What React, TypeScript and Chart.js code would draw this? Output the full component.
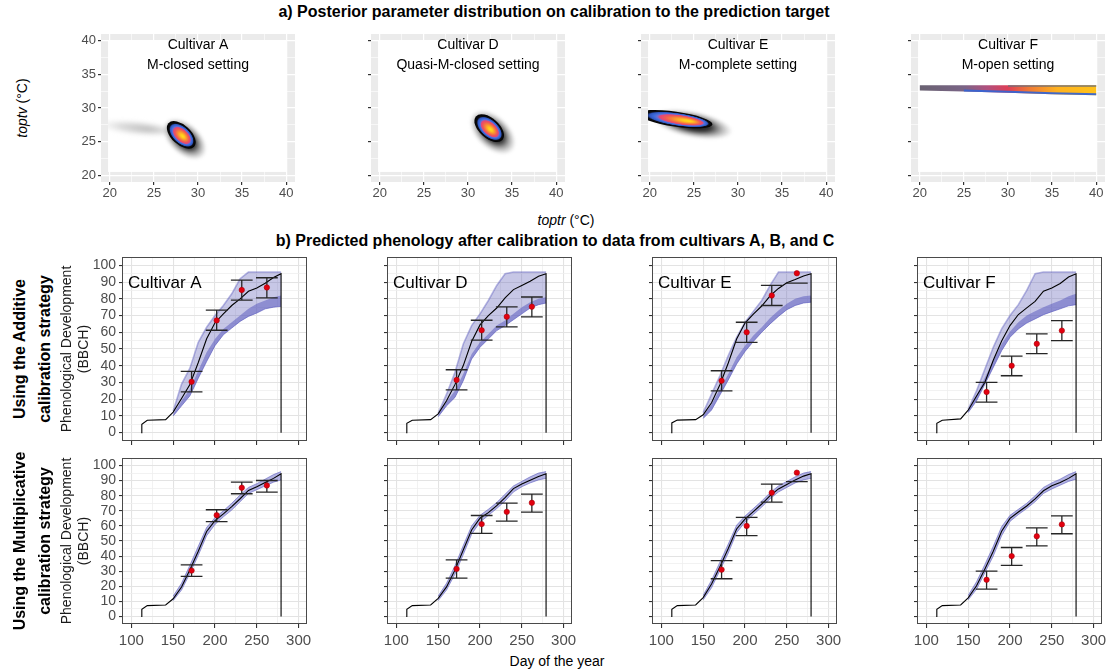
import React, { useEffect, useRef } from 'react';
import { Chart, registerables } from 'chart.js';

Chart.register(...registerables);
const FONT = "'Liberation Sans', Arial, Helvetica, sans-serif";
Chart.defaults.font.family = FONT;

// ================= a) posterior parameter distributions =================
const postCultivars = ['Cultivar A', 'Cultivar D', 'Cultivar E', 'Cultivar F'];
const postSettings = ['M-closed setting', 'Quasi-M-closed setting', 'M-complete setting', 'M-open setting'];
const paramTicks = [20, 22.5, 25, 27.5, 30, 32.5, 35, 37.5, 40];
const paramMajor = [20, 25, 30, 35, 40];
const rasterToptr = [19.8, 40.1];
const rasterToptv = [20.5, 40.1];

// density ellipses: [toptr centre, toptv centre, major half-axis d-toptr, d-toptv, minor/major ratio, mode offset]
const tailA = [23.0, 27.05, 4.6, -0.6, 0.18, 0.3];
const haloA = [28.5, 25.4, 2.2, -2.6, 0.6, 0];
const coreA = [28.1, 26.0, 1.45, -1.75, 0.56, 0.12];
const haloD = [32.8, 26.4, 2.3, -2.8, 0.6, 0];
const coreD = [32.4, 27.0, 1.5, -1.75, 0.56, 0.12];
const haloE = [24.8, 27.6, 4.6, -1.2, 0.32, 0];
const coreE = [22.9, 28.35, 4.2, -0.8, 0.2, 0.38];
// M-open ridge of cultivar F
const ridgeToptrF = [20, 25, 30, 35, 40];
const ridgeTopF = [33.4, 33.4, 33.4, 33.4, 33.4];
const ridgeBotF = [32.6, 32.45, 32.25, 32.05, 31.9];

// ================= b) predicted phenology =================
const phenCultivars = ['Cultivar A', 'Cultivar D', 'Cultivar E', 'Cultivar F'];
const dayTicks = [100, 125, 150, 175, 200, 225, 250, 275, 300];
const bbchTicks = [0, 5, 10, 15, 20, 25, 30, 35, 40, 45, 50, 55, 60, 65, 70, 75, 80, 85, 90, 95, 100];
const obsDays = [172, 202, 232, 262];
const obsA = [30.4, 67.1, 85.3, 86.8];
const obsD = [31.5, 61.2, 69.3, 75.3];
const obsE = [31.0, 60.0, 82.0, 95.3];
const obsF = [24.3, 40.0, 53.1, 61.0];
const addErrLoA = [24.4, 61.2, 79.2, 80.6];
const addErrHiA = [36.6, 73.2, 91.2, 92.6];
const addErrLoD = [25.6, 55.3, 63.2, 69.2];
const addErrHiD = [37.6, 67.2, 75.2, 81.1];
const addErrLoE = [25.0, 54.0, 76.0, 89.4];
const addErrHiE = [37.0, 66.0, 88.0, null];
const addErrLoF = [18.3, 34.0, 47.2, 55.0];
const addErrHiF = [30.1, 45.8, 59.0, 67.0];
const mulErrLoA = [26.5, 62.9, 81.3, 82.4];
const mulErrHiA = [34.2, 70.7, 89.0, 90.1];
const mulErrLoD = [25.4, 55.0, 63.2, 69.1];
const mulErrHiD = [37.5, 66.9, 75.1, 81.0];
const mulErrLoE = [25.0, 53.6, 75.8, 89.4];
const mulErrHiE = [37.0, 65.6, 87.7, null];
const mulErrLoF = [18.1, 33.8, 46.8, 54.8];
const mulErrHiF = [30.0, 45.7, 58.7, 66.7];

const simDays = [111.8, 112.5, 119, 141, 150, 160, 170, 180, 190, 200, 210, 220, 230, 240, 250, 260, 270, 279, 279];
const addLineA = [0, 5.0, 7.4, 7.8, 12.3, 20.4, 28.7, 41.9, 56.1, 65.7, 71.0, 76.0, 80.0, 84.5, 86.5, 89.3, 92.7, 95.0, 0];
const addLineD = [0, 5.6, 7.4, 7.8, 11.2, 19.1, 28.7, 40.1, 54.5, 64.4, 70.0, 74.5, 80.5, 85.5, 88.0, 90.5, 93.5, 95.0, 0];
const addLineE = [0, 5.8, 7.5, 7.8, 10.7, 17.9, 28.6, 41.6, 56.0, 65.5, 70.8, 75.7, 81.8, 86.2, 89.6, 91.5, 93.7, 95.0, 0];
const addLineF = [0, 5.6, 7.4, 8.2, 13.4, 21.9, 30.1, 43.3, 54.8, 64.0, 70.6, 74.6, 78.5, 84.6, 86.5, 89.2, 93.0, 95.0, 0];
const mulLineA = [0, 4.8, 7.2, 7.6, 11.7, 19.5, 31.0, 43.2, 56.3, 63.5, 68.0, 72.8, 78.0, 83.5, 86.0, 88.7, 91.5, 94.5, 0];
const mulLineD = [0, 4.8, 7.2, 7.6, 12.0, 19.6, 30.7, 44.0, 57.3, 65.1, 68.8, 73.4, 78.7, 84.7, 87.8, 90.3, 92.7, 94.6, 0];
const mulLineE = [0, 4.8, 7.2, 7.6, 12.5, 21.5, 33.0, 45.0, 58.0, 64.5, 69.5, 74.5, 80.0, 84.5, 87.5, 90.5, 93.0, 94.6, 0];
const mulLineF = [0, 4.8, 7.2, 7.6, 12.3, 20.3, 31.5, 43.2, 56.5, 65.0, 69.2, 73.2, 77.9, 83.3, 86.6, 88.8, 91.5, 94.5, 0];

const ribDays = [150, 160, 170, 180, 190, 200, 210, 220, 230, 240, 250, 260, 270, 279];
const addHiA = [13, 29, 38.5, 54, 63, 70, 76, 83, 92, 96, 96, 96, 96, 96];
const addLoA = [10, 16, 22, 32.5, 42.5, 52, 58.5, 62.5, 66.5, 69.5, 71.5, 74, 75, 75.5];
const addDkA = [11, 19, 26, 37, 48, 56, 62, 66, 70, 74, 77, 79, 81, 82];
const addHiD = [11.5, 23, 36, 53, 64, 71, 79, 88, 95, 96, 96, 96, 96, 96];
const addLoD = [9.5, 16, 21, 31, 44, 51, 56, 61, 64, 67.5, 71, 74.5, 76.5, 77.5];
const addDkD = [10.5, 18.5, 25, 35, 47, 54, 59, 64, 67, 71, 75, 78, 80, 81];
const addHiE = [12, 23, 34, 46, 57, 66, 72.5, 79, 88, 96, 96, 96, 96, 96];
const addLoE = [8.5, 13.5, 22.5, 31.5, 41, 48.5, 54.5, 60, 65, 69.5, 73.5, 76, 77.5, 78];
const addDkE = [10, 17, 26, 35, 45, 52, 58, 63, 68.5, 73, 77, 80, 81.5, 82];
const addHiF = [14, 25, 38, 51, 62, 70, 76.5, 85, 95, 96, 96, 96, 96, 96];
const addLoF = [12, 19, 29, 39, 49, 57, 62, 65.5, 68, 70.5, 72.3, 74, 75.8, 76.5];
const addDkF = [13, 22, 33, 43, 53, 60.5, 66, 70, 72.5, 75, 77, 79, 81.5, 83];
const mulHiA = [13.5, 22, 34, 46.5, 59, 65.5, 70, 75, 80.5, 85.5, 88, 91, 94, 96];
const mulLoA = [10.5, 17.5, 28.5, 40.5, 53.5, 61, 66, 70.5, 76, 81.5, 84, 86.5, 89, 90.5];
const mulHiD = [13.5, 22, 33.5, 47, 60, 67, 71, 75.5, 81, 86.5, 89.5, 92.5, 95, 96];
const mulLoD = [10.5, 17.5, 28, 41, 54.5, 62.5, 67, 71.5, 76.5, 82.5, 86, 88.5, 90.5, 91.5];
const mulHiE = [14, 24, 36, 48, 60.5, 66.5, 71.5, 76.5, 82, 86.5, 89.5, 92.5, 95, 96];
const mulLoE = [11, 19, 30.5, 42, 55.5, 62.5, 67.5, 72.5, 78, 82.5, 85.5, 88.5, 90.5, 91.5];
const mulHiF = [14, 23, 34.5, 46.5, 59.5, 67, 71, 75, 80, 85.5, 88.5, 91, 94, 96];
const mulLoF = [11, 18, 29, 40, 53.5, 63, 67.5, 71.5, 76, 81.5, 84.5, 87, 89.5, 91];

const obsAll = [obsA, obsD, obsE, obsF];
const addLines = [addLineA, addLineD, addLineE, addLineF];
const mulLines = [mulLineA, mulLineD, mulLineE, mulLineF];
const addHis = [addHiA, addHiD, addHiE, addHiF];
const addLos = [addLoA, addLoD, addLoE, addLoF];
const addDks = [addDkA, addDkD, addDkE, addDkF];
const mulHis = [mulHiA, mulHiD, mulHiE, mulHiF];
const mulLos = [mulLoA, mulLoD, mulLoE, mulLoF];
const addErrLos = [addErrLoA, addErrLoD, addErrLoE, addErrLoF];
const addErrHis = [addErrHiA, addErrHiD, addErrHiE, addErrHiF];
const mulErrLos = [mulErrLoA, mulErrLoD, mulErrLoE, mulErrLoF];
const mulErrHis = [mulErrHiA, mulErrHiD, mulErrHiE, mulErrHiF];

// ================= layout (pixels) =================
const TOP_LEFTS = [101, 371, 641, 911];
const TOP_W = 194, TOP_T = 34, TOP_H = 148;
const TOP_YW = 30, TOP_XH = 24, TOP_PT = 12, TOP_PR = 10;
const BOT_LEFTS = [123, 388, 653, 918];
const BOT_W = 184;
const ROW_T = [257, 458];
const ROW_H = [184, 166];
const BOT_YW = 36, BOT_PT = 12, BOT_PR = 14;
const ROW_XH = [6, 28];
const ROW_PB = [8, 0];
const CAP_HALF = 13;

const coreStops: [number, string][] = [
  [0, '#ffe01a'], [0.15, '#ffc41f'], [0.32, '#f98b35'], [0.47, '#ee5a55'],
  [0.58, '#e2457a'], [0.63, '#6a6fd0'], [0.69, '#3f6cdc'], [0.78, '#2f56c0'],
  [0.85, '#0c0c10'], [1, '#000000'],
];
const haloStops: [number, string][] = [
  [0, 'rgba(0,0,0,0.95)'], [0.45, 'rgba(0,0,0,0.8)'], [0.7, 'rgba(30,30,30,0.38)'], [1, 'rgba(90,90,90,0)'],
];
const tailStops: [number, string][] = [
  [0, 'rgba(140,140,140,0.6)'], [0.55, 'rgba(170,170,170,0.42)'], [1, 'rgba(210,210,210,0)'],
];

function paintEllipse(ctx: any, xs: any, ys: any, e: number[], stops: [number, string][]) {
  const [cx, cy, dx, dy, ratio, focus] = e;
  const px = xs.getPixelForValue(cx), py = ys.getPixelForValue(cy);
  const vx = xs.getPixelForValue(cx + dx) - px;
  const vy = ys.getPixelForValue(cy + dy) - py;
  const R = Math.hypot(vx, vy);
  ctx.save();
  ctx.translate(px, py);
  ctx.rotate(Math.atan2(vy, vx));
  ctx.scale(1, ratio);
  const g = ctx.createRadialGradient(focus * R, 0, 0, 0, 0, R);
  for (const [o, c] of stops) g.addColorStop(o, c);
  ctx.fillStyle = g;
  ctx.beginPath();
  ctx.arc(0, 0, R, 0, Math.PI * 2);
  ctx.fill();
  ctx.restore();
}

function paintRidge(ctx: any, xs: any, ys: any) {
  const left = xs.getPixelForValue(ridgeToptrF[0]);
  const right = xs.getPixelForValue(ridgeToptrF[ridgeToptrF.length - 1]);
  ctx.save();
  ctx.beginPath();
  ridgeToptrF.forEach((x, i) => {
    const X = xs.getPixelForValue(x), Y = ys.getPixelForValue(ridgeTopF[i]);
    if (i === 0) ctx.moveTo(X, Y); else ctx.lineTo(X, Y);
  });
  for (let i = ridgeToptrF.length - 1; i >= 0; i--) {
    ctx.lineTo(xs.getPixelForValue(ridgeToptrF[i]), ys.getPixelForValue(ridgeBotF[i]));
  }
  ctx.closePath();
  const g = ctx.createLinearGradient(left, 0, right, 0);
  g.addColorStop(0, '#6a6272'); g.addColorStop(0.25, '#7a6486'); g.addColorStop(0.38, '#b0507e');
  g.addColorStop(0.5, '#de3f56'); g.addColorStop(0.62, '#f07a35'); g.addColorStop(0.78, '#ffb21f');
  g.addColorStop(1, '#ffc21a');
  ctx.fillStyle = g;
  ctx.fill();
  const rim = (arr: number[], from: number, color: string, w: number, off: number) => {
    ctx.beginPath();
    let started = false;
    ridgeToptrF.forEach((x, i) => {
      if (x < from) return;
      const X = xs.getPixelForValue(x), Y = ys.getPixelForValue(arr[i]) + off;
      if (!started) { ctx.moveTo(X, Y); started = true; } else ctx.lineTo(X, Y);
    });
    ctx.strokeStyle = color; ctx.lineWidth = w; ctx.stroke();
  };
  rim(ridgeTopF, 30, 'rgba(110,110,120,0.9)', 1.6, 0.8);
  rim(ridgeBotF, 25, 'rgba(55,100,210,0.95)', 2, -1);
  ctx.restore();
}

function densityPlugin(idx: number) {
  return {
    id: 'density',
    beforeDraw(chart: any) {
      const { ctx, chartArea: a } = chart;
      ctx.save();
      ctx.fillStyle = '#ebebeb';
      ctx.fillRect(a.left, a.top, a.right - a.left, a.bottom - a.top);
      ctx.restore();
    },
    beforeDatasetsDraw(chart: any) {
      const ctx = chart.ctx, xs = chart.scales.x, ys = chart.scales.y;
      const l = xs.getPixelForValue(rasterToptr[0]), r = xs.getPixelForValue(rasterToptr[1]);
      const t = ys.getPixelForValue(rasterToptv[1]), b = ys.getPixelForValue(rasterToptv[0]);
      ctx.save();
      ctx.fillStyle = '#ffffff';
      ctx.fillRect(l, t, r - l, b - t);
      ctx.beginPath(); ctx.rect(l, t, r - l, b - t); ctx.clip();
      if (idx === 0) {
        ctx.filter = 'blur(2px)';
        paintEllipse(ctx, xs, ys, tailA, tailStops);
        ctx.filter = 'blur(1.5px)';
        paintEllipse(ctx, xs, ys, haloA, haloStops);
        ctx.filter = 'none';
        paintEllipse(ctx, xs, ys, coreA, coreStops);
      } else if (idx === 1) {
        ctx.filter = 'blur(1.5px)';
        paintEllipse(ctx, xs, ys, haloD, haloStops);
        ctx.filter = 'none';
        paintEllipse(ctx, xs, ys, coreD, coreStops);
      } else if (idx === 2) {
        ctx.filter = 'blur(1.5px)';
        paintEllipse(ctx, xs, ys, haloE, haloStops);
        ctx.filter = 'none';
        paintEllipse(ctx, xs, ys, coreE, coreStops);
      } else {
        paintRidge(ctx, xs, ys);
      }
      ctx.restore();
    },
    afterDatasetsDraw(chart: any) {
      const ctx = chart.ctx, ys = chart.scales.y;
      ctx.save();
      ctx.fillStyle = '#000';
      ctx.font = `14px ${FONT}`;
      ctx.textAlign = 'center';
      ctx.textBaseline = 'middle';
      const cx = (chart.chartArea.left + chart.chartArea.right) / 2;
      ctx.fillText(postCultivars[idx], cx, ys.getPixelForValue(39.4));
      ctx.fillText(postSettings[idx], cx, ys.getPixelForValue(36.3));
      ctx.restore();
    },
  };
}

const isMajorParam = (v: number) => paramMajor.indexOf(v) >= 0;

function topConfig(idx: number): any {
  const gridOpts = {
    color: '#ffffff',
    lineWidth: (c: any) => (c.tick && isMajorParam(c.tick.value) ? 1.2 : 0.6),
    tickColor: (c: any) => (c.tick && isMajorParam(c.tick.value) ? '#333333' : 'rgba(0,0,0,0)'),
    tickLength: 3,
    drawTicks: true,
  };
  return {
    type: 'scatter',
    data: { datasets: [] },
    options: {
      responsive: false, animation: false, devicePixelRatio: 1, events: [],
      layout: { padding: { top: TOP_PT, right: TOP_PR, left: 0, bottom: 0 } },
      plugins: { legend: { display: false }, tooltip: { enabled: false } },
      scales: {
        x: {
          type: 'linear', min: 19, max: 41,
          afterBuildTicks: (s: any) => { s.ticks = paramTicks.map((v) => ({ value: v })); },
          afterFit: (s: any) => { s.height = TOP_XH; },
          ticks: {
            autoSkip: false, maxRotation: 0, minRotation: 0, padding: 1, color: '#4d4d4d',
            font: { size: 13 }, callback: (v: number) => (isMajorParam(v) ? String(v) : ''),
          },
          grid: gridOpts,
          border: { display: false },
        },
        y: {
          type: 'linear', min: 19, max: 41,
          afterBuildTicks: (s: any) => { s.ticks = paramTicks.map((v) => ({ value: v })); },
          afterFit: (s: any) => { s.width = TOP_YW; },
          ticks: {
            autoSkip: false, padding: 2, color: '#4d4d4d', font: { size: 13 },
            callback: (v: number) => (idx === 0 && isMajorParam(v) ? String(v) : ''),
          },
          grid: gridOpts,
          border: { display: false },
        },
      },
    },
    plugins: [densityPlugin(idx)],
  };
}

const pts = (xs: number[], ys: (number | null)[]) => xs.map((x, i) => ({ x, y: ys[i] }));

function errorBarPts(days: number[], lo: (number | null)[], hi: (number | null)[]) {
  const out: any[] = [];
  days.forEach((d, i) => {
    if (hi[i] != null && lo[i] != null) {
      out.push({ x: d, y: lo[i] }, { x: d, y: hi[i] }, { x: d, y: null });
    }
    if (hi[i] != null) out.push({ x: d - CAP_HALF, y: hi[i] }, { x: d + CAP_HALF, y: hi[i] }, { x: d, y: null });
    if (lo[i] != null) out.push({ x: d - CAP_HALF, y: lo[i] }, { x: d + CAP_HALF, y: lo[i] }, { x: d, y: null });
  });
  return out;
}

function phenoDecor(row: number, col: number) {
  return {
    id: 'phenoDecor',
    afterDatasetsDraw(chart: any) {
      const { ctx, chartArea: a } = chart;
      const ys = chart.scales.y;
      ctx.save();
      ctx.strokeStyle = '#4a4a4a';
      ctx.lineWidth = 1;
      ctx.strokeRect(Math.round(a.left) - 0.5, Math.round(a.top) + 0.5, Math.round(a.right - a.left), Math.round(a.bottom - a.top) - 1);
      if (row === 0) {
        ctx.fillStyle = '#000';
        ctx.font = `17px ${FONT}`;
        ctx.textAlign = 'left';
        ctx.textBaseline = 'middle';
        ctx.fillText(phenCultivars[col], a.left + 5, ys.getPixelForValue(89.5));
      }
      ctx.restore();
    },
  };
}

function phenoConfig(row: number, col: number): any {
  const isAdd = row === 0;
  const datasets: any[] = [];
  const base = { pointRadius: 0, pointHoverRadius: 0, pointHitRadius: 0, tension: 0 };
  datasets.push({
    ...base, data: pts(obsDays, obsAll[col]), showLine: false, pointRadius: 2.7,
    pointBackgroundColor: '#e3000f', pointBorderColor: '#a8000a', pointBorderWidth: 0.6, order: 0,
  });
  datasets.push({
    ...base, data: errorBarPts(obsDays, (isAdd ? addErrLos : mulErrLos)[col], (isAdd ? addErrHis : mulErrHis)[col]),
    borderColor: '#262626', borderWidth: 1.3, spanGaps: false, fill: false, order: 1,
  });
  datasets.push({
    ...base, data: pts(simDays, (isAdd ? addLines : mulLines)[col]),
    borderColor: '#000000', borderWidth: 1.1, fill: false, order: 2,
  });
  if (isAdd) {
    datasets.push({
      ...base, data: pts(ribDays, addDks[col]), fill: '+1',
      backgroundColor: 'rgba(85,85,190,0.5)', borderWidth: 0, order: 3,
    });
    datasets.push({ ...base, data: pts(ribDays, addLos[col]), fill: false, borderWidth: 0, order: 4 });
    datasets.push({
      ...base, data: pts(ribDays, addHis[col]), fill: '+1',
      backgroundColor: 'rgba(100,100,185,0.36)', borderColor: 'rgba(95,95,190,0.45)', borderWidth: 1.6, order: 5,
    });
    datasets.push({ ...base, data: pts(ribDays, addLos[col]), fill: false, borderColor: 'rgba(85,85,190,0.6)', borderWidth: 1, order: 6 });
  } else {
    datasets.push({
      ...base, data: pts(ribDays, mulHis[col]), fill: '+1',
      backgroundColor: 'rgba(95,95,195,0.48)', borderColor: 'rgba(85,85,185,0.55)', borderWidth: 1, order: 3,
    });
    datasets.push({ ...base, data: pts(ribDays, mulLos[col]), fill: false, borderColor: 'rgba(85,85,185,0.55)', borderWidth: 1, order: 4 });
  }
  const major = (v: number, step: number) => Math.abs(v % step) < 1e-6;
  return {
    type: 'line',
    data: { datasets },
    options: {
      responsive: false, animation: false, devicePixelRatio: 1, events: [],
      layout: { padding: { top: BOT_PT, right: BOT_PR, left: 0, bottom: ROW_PB[row] } },
      plugins: { legend: { display: false }, tooltip: { enabled: false } },
      scales: {
        x: {
          type: 'linear', min: 90, max: 310,
          afterBuildTicks: (s: any) => { s.ticks = dayTicks.map((v) => ({ value: v })); },
          afterFit: (s: any) => { s.height = ROW_XH[row]; },
          ticks: {
            autoSkip: false, maxRotation: 0, minRotation: 0, padding: 4, color: '#4d4d4d',
            font: { size: 15 }, callback: (v: number) => (row === 1 && major(v, 50) ? String(v) : ''),
          },
          grid: {
            color: (c: any) => (c.tick && major(c.tick.value, 50) ? '#e3e3e3' : '#efefef'),
            lineWidth: (c: any) => (c.tick && major(c.tick.value, 50) ? 1.1 : 0.8),
            tickColor: (c: any) => (c.tick && major(c.tick.value, 50) ? '#333333' : 'rgba(0,0,0,0)'),
            tickLength: 4, drawTicks: true,
          },
          border: { display: false },
        },
        y: {
          type: 'linear', min: -5, max: 105,
          afterBuildTicks: (s: any) => { s.ticks = bbchTicks.map((v) => ({ value: v })); },
          afterFit: (s: any) => { s.width = BOT_YW; },
          ticks: {
            autoSkip: false, padding: 3, color: '#4d4d4d', font: { size: 14 },
            callback: (v: number) => (col === 0 && major(v, 10) ? String(v) : ''),
          },
          grid: {
            color: (c: any) => (c.tick && major(c.tick.value, 10) ? '#e3e3e3' : '#efefef'),
            lineWidth: (c: any) => (c.tick && major(c.tick.value, 10) ? 1.1 : 0.8),
            tickColor: (c: any) => (c.tick && major(c.tick.value, 10) ? '#333333' : 'rgba(0,0,0,0)'),
            tickLength: 4, drawTicks: true,
          },
          border: { display: false },
        },
      },
    },
    plugins: [phenoDecor(row, col)],
  };
}

function ChartBox(props: { left: number; top: number; width: number; height: number; make: () => any }) {
  const ref = useRef<HTMLCanvasElement>(null);
  useEffect(() => {
    const chart = new Chart(ref.current as HTMLCanvasElement, props.make());
    return () => chart.destroy();
  }, []);
  return (
    <canvas
      ref={ref}
      width={props.width}
      height={props.height}
      style={{ position: 'absolute', left: props.left, top: props.top, width: props.width, height: props.height }}
    />
  );
}

function VText(props: { cx: number; cy: number; children: any; style?: any }) {
  return (
    <div
      style={{
        position: 'absolute', left: props.cx, top: props.cy, whiteSpace: 'nowrap', textAlign: 'center',
        transform: 'translate(-50%, -50%) rotate(-90deg)', fontFamily: FONT, ...props.style,
      }}
    >
      {props.children}
    </div>
  );
}

function HText(props: { cx: number; cy: number; children: any; style?: any }) {
  return (
    <div
      style={{
        position: 'absolute', left: props.cx, top: props.cy, whiteSpace: 'nowrap', textAlign: 'center',
        transform: 'translate(-50%, -50%)', fontFamily: FONT, ...props.style,
      }}
    >
      {props.children}
    </div>
  );
}

export default function App() {
  return (
    <div style={{ position: 'fixed', left: 0, top: 0, width: 1107, height: 669, background: '#fff', overflow: 'hidden' }}>
      <HText cx={554} cy={12} style={{ fontSize: 16, fontWeight: 'bold', color: '#000' }}>
        a) Posterior parameter distribution on calibration to the prediction target
      </HText>
      {TOP_LEFTS.map((L, i) => (
        <ChartBox
          key={'t' + i}
          left={L - TOP_YW}
          top={TOP_T - TOP_PT}
          width={TOP_YW + TOP_W + TOP_PR}
          height={TOP_PT + TOP_H + TOP_XH}
          make={() => topConfig(i)}
        />
      ))}
      <VText cx={22} cy={108} style={{ fontSize: 14, color: '#000' }}>
        <i>toptv</i> (°C)
      </VText>
      <HText cx={566} cy={220} style={{ fontSize: 14, color: '#000' }}>
        <i>toptr</i> (°C)
      </HText>
      <HText cx={555} cy={241} style={{ fontSize: 16, fontWeight: 'bold', color: '#000' }}>
        b) Predicted phenology after calibration to data from cultivars A, B, and C
      </HText>
      {[0, 1].map((row) =>
        BOT_LEFTS.map((L, col) => (
          <ChartBox
            key={'b' + row + col}
            left={L - BOT_YW}
            top={ROW_T[row] - BOT_PT}
            width={BOT_YW + BOT_W + BOT_PR}
            height={BOT_PT + ROW_H[row] + ROW_XH[row] + ROW_PB[row]}
            make={() => phenoConfig(row, col)}
          />
        ))
      )}
      <VText cx={32} cy={349} style={{ fontSize: 16, fontWeight: 'bold', lineHeight: '25px', color: '#000' }}>
        Using the Additive<br />calibration strategy
      </VText>
      <VText cx={32} cy={541} style={{ fontSize: 16, fontWeight: 'bold', lineHeight: '25px', color: '#000' }}>
        Using the Multiplicative<br />calibration strategy
      </VText>
      <VText cx={75} cy={349} style={{ fontSize: 14, lineHeight: '17px', color: '#1a1a1a' }}>
        Phenological Development<br />(BBCH)
      </VText>
      <VText cx={75} cy={541} style={{ fontSize: 14, lineHeight: '17px', color: '#1a1a1a' }}>
        Phenological Development<br />(BBCH)
      </VText>
      <HText cx={557} cy={661} style={{ fontSize: 14, color: '#000' }}>
        Day of the year
      </HText>
    </div>
  );
}
